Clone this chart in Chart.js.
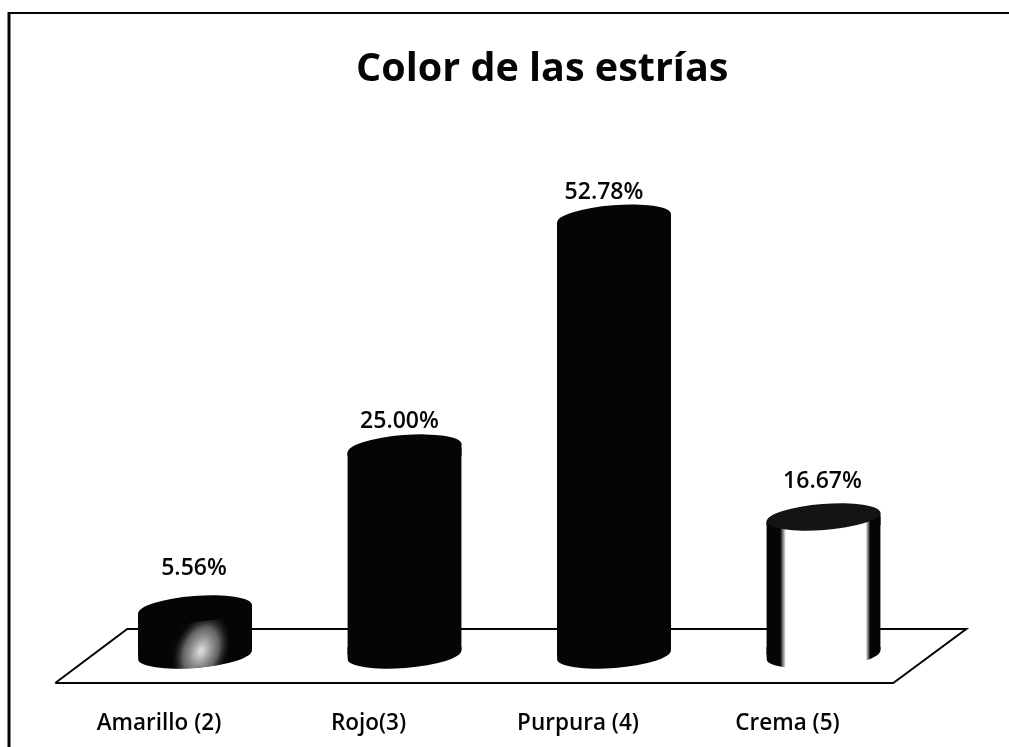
<!DOCTYPE html>
<html lang="es">
<head>
<meta charset="utf-8">
<title>Color de las estrías</title>
<script src="https://cdn.jsdelivr.net/npm/chart.js@4"></script>
<style>
html, body { margin: 0; padding: 0; background: #fff; overflow: hidden; }
canvas { display: block; }
</style>
</head>
<body>
<canvas id="estriasChart" width="1009" height="747"></canvas>
<script>
// ==============================
// DATA
// ==============================
const categories = ["Amarillo (2)", "Rojo(3)", "Purpura (4)", "Crema (5)"];
const percentages = [5.56, 25.00, 52.78, 16.67];

// ==============================
// LOOK
// ==============================
const INK = "#050505";
const FONT = "'Open Sans', Lato, sans-serif";
const BAR_W = 114;
const RY = 13;                 // half height of the cylinder ends
const TILT = -4.5 * Math.PI / 180;
const labelGaps = [41, 27, 26, 36];    // value label distance above the bar top
const labelShifts = [-1, -5, -10, -1]; // value label offset from the bar centre

// -- the last bar is white with dark edges --
function barFill(ctx){
    const chart = ctx.chart;
    if(ctx.dataIndex !== 3 || !chart.chartArea) return INK;
    const x = chart.scales.x.getPixelForValue(3);
    const g = chart.ctx.createLinearGradient(x - BAR_W/2, 0, x + BAR_W/2, 0);
    g.addColorStop(0, INK);
    g.addColorStop(0.12, INK);
    g.addColorStop(0.17, "#fff");
    g.addColorStop(0.87, "#fff");
    g.addColorStop(0.91, INK);
    g.addColorStop(1, INK);
    return g;
}

// ==============================
// PLUGINS
// ==============================
function line(c, pts, width){
    c.beginPath();
    pts.forEach((p, i) => i ? c.lineTo(p[0], p[1]) : c.moveTo(p[0], p[1]));
    c.lineWidth = width;
    c.strokeStyle = INK;
    c.stroke();
}

const cylinders = {
    id: "cylinders",
    afterLayout(chart){
        // title sits right of the page centre
        chart.titleBlock.left += 33;
        chart.titleBlock.right += 33;
    },
    beforeDatasetsDraw(chart){
        const c = chart.ctx;
        const a = chart.chartArea;
        const base = chart.scales.y.getPixelForValue(0);

        // -- page frame, only left and top are visible --
        line(c, [[9, 747], [9, 12]], 3);
        line(c, [[8, 13], [1009, 13]], 2);

        // -- floor --
        const floor = [
            [a.left - 35, base + 28], [a.left + 37, base - 26],
            [a.right + 38, base - 26], [a.right - 35, base + 28]
        ];
        line(c, [...floor, floor[0]], 2);

        // -- trim the flat bar ends to the tilted cylinder --
        const meta = chart.getDatasetMeta(0);
        c.save();
        c.beginPath();
        meta.data.forEach(bar => {
            const h = BAR_W/2;
            const t = Math.tan(TILT) * h;
            c.moveTo(bar.x - h, bar.y - t);
            c.lineTo(bar.x + h, bar.y + t);
            c.lineTo(bar.x + h, base + t);
            c.lineTo(bar.x - h, base - t);
            c.closePath();
        });
        c.clip();
    },
    afterDatasetsDraw(chart){
        const c = chart.ctx;
        c.restore();

        const base = chart.scales.y.getPixelForValue(0);
        const meta = chart.getDatasetMeta(0);

        meta.data.forEach((bar, i) => {
            const fill = bar.options.backgroundColor;
            const h = BAR_W/2;
            const t = Math.tan(TILT) * h;

            // bottom end, joined to the bar above the tilted chord
            c.beginPath();
            c.ellipse(bar.x, base, h, RY, TILT, 0, Math.PI);
            c.lineTo(bar.x - h, base - 8);
            c.lineTo(bar.x + h, base - 8);
            c.closePath();
            c.fillStyle = fill;
            c.fill();

            // pale highlight on the short bar
            if(i === 0){
                c.save();
                c.beginPath();
                c.ellipse(bar.x, base, h, RY, TILT, 0, Math.PI);
                c.lineTo(bar.x - h, bar.y);
                c.lineTo(bar.x + h, bar.y);
                c.closePath();
                c.clip();
                c.translate(bar.x + 6, base - 4);
                c.rotate(0.4);
                c.scale(0.95, 1.4);
                const g = c.createRadialGradient(0, 0, 2, 0, 0, 30);
                g.addColorStop(0, "rgba(225,225,225,0.95)");
                g.addColorStop(0.55, "rgba(150,150,150,0.65)");
                g.addColorStop(1, "rgba(5,5,5,0)");
                c.fillStyle = g;
                c.fillRect(-40, -40, 80, 80);
                c.restore();
            }

            // top end, the patch closes the gap under the raised right side
            c.beginPath();
            c.moveTo(bar.x - h, bar.y - t);
            c.lineTo(bar.x + h, bar.y + t);
            c.lineTo(bar.x + h, bar.y + 8);
            c.lineTo(bar.x - h, bar.y + 8);
            c.closePath();
            c.fillStyle = fill;
            c.fill();

            c.beginPath();
            c.ellipse(bar.x, bar.y, h, RY, TILT, 0, Math.PI * 2);
            c.fillStyle = i === 3 ? "#141414" : INK;
            c.fill();

            // value label
            c.font = "600 23px " + FONT;
            c.fillStyle = INK;
            c.textAlign = "center";
            c.textBaseline = "middle";
            c.fillText(percentages[i].toFixed(2) + "%", bar.x + labelShifts[i], bar.y - labelGaps[i]);
        });
    }
};

// ==============================
// CHART
// ==============================
const ctx = document.getElementById("estriasChart").getContext("2d");

const estriasChart = new Chart(ctx, {
    type: "bar",
    data: {
        labels: categories,
        datasets: [{
            label: "Color de las estrías",
            data: percentages,
            backgroundColor: barFill,
            borderWidth: 0,
            barThickness: BAR_W
        }]
    },
    options: {
        responsive: false,
        animation: false,
        layout: { padding: { left: 90.25, right: 80.75, top: 0, bottom: 0 } },
        plugins: {
            legend: { display: false },
            tooltip: { enabled: false },
            title: {
                display: true,
                text: "Color de las estrías",
                color: INK,
                font: { family: FONT, size: 39.5, weight: "bold", lineHeight: 1.2 },
                padding: { top: 46, bottom: 65 }
            }
        },
        scales: {
            x: {
                grid: { display: false, drawTicks: false },
                border: { display: false },
                afterFit(scale){ scale.height = 92; },
                ticks: {
                    color: INK,
                    font: { family: FONT, size: 22.5, weight: "600" },
                    padding: 55,
                    labelOffset: -36,
                    maxRotation: 0,
                    autoSkip: false
                }
            },
            y: {
                display: false,
                min: 0,
                max: 60
            }
        }
    },
    plugins: [cylinders]
});
</script>
</body>
</html>
